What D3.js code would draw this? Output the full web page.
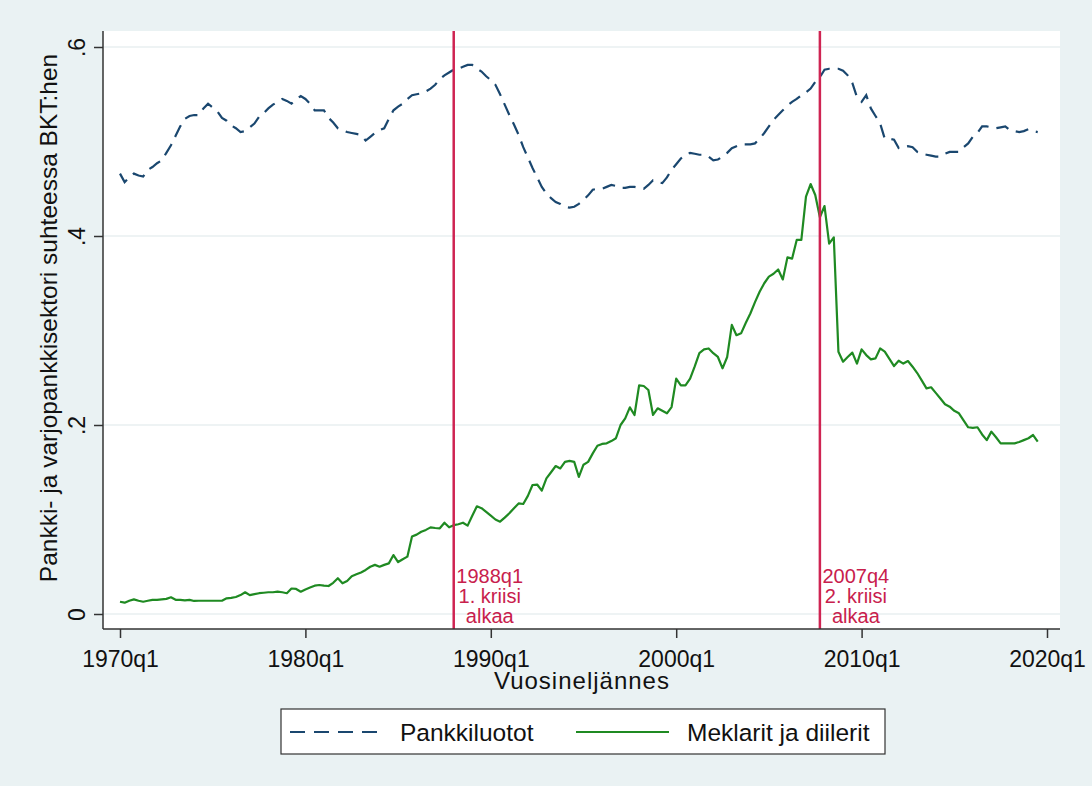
<!DOCTYPE html>
<html>
<head>
<meta charset="utf-8">
<script src="https://cdn.jsdelivr.net/npm/d3@7"></script>
<style>
  body { margin: 0; background: #eaf2f3; }
  svg { display: block; font-family: Arial, "Liberation Sans", sans-serif; }
</style>
</head>
<body>
<div id="chart"></div>
<script>
// quarterly series, 1970q1 .. 2019q3
const startYear = 1970;

const pankkiluotot = [
  .466, .457, .462, .466,  .464, .463, .470, .473,  .477, .480, .488, .496,  .506, .516, .524, .527,
  .528, .528, .535, .540,  .536, .532, .525, .522,  .517, .514, .510, .511,  .515, .519, .526, .530,
  .535, .539, .542, .545,  .543, .540, .545, .548,  .545, .540, .533, .533,  .533, .525, .520, .514,
  .512, .510, .509, .508,  .507, .501, .505, .509,  .512, .514, .524, .533,  .537, .540, .545, .549,
  .550, .551, .553, .556,  .560, .566, .570, .573,  .576, .577, .579, .581,  .581, .577, .574, .569,
  .565, .560, .550, .539,  .528, .518, .507, .494,  .483, .472, .462, .452,  .445, .440, .436, .434,
  .431, .430, .431, .434,  .438, .443, .449, .450,  .450, .452, .454, .453,  .451, .451, .452, .452,
  .451, .450, .454, .459,  .457, .456, .462, .470,  .476, .482, .486, .488,  .487, .486, .486, .484,
  .480, .481, .484, .488,  .493, .495, .497, .497,  .497, .498, .503, .509,  .516, .523, .528, .533,
  .538, .542, .545, .549,  .552, .556, .563, .568,  .576, .577, .577, .577,  .575, .570, .562, .547,
  .542, .549, .535, .527,  .519, .503, .503, .502,  .493, .494, .495, .494,  .489, .487, .486, .485,
  .484, .484, .487, .489,  .489, .489, .494, .498,  .505, .509, .516, .516,  .515, .514, .515, .516,
  .512, .511, .510, .511,  .513, .511, .510
];

const meklarit = [
  .013, .012, .014, .0155,  .014, .013, .014, .015,  .015, .0155, .016, .0177,  .015, .015, .0145, .015,
  .0138, .014, .014, .014,  .014, .014, .014, .0166,  .017, .018, .020, .023,  .020, .021, .022, .0225,
  .023, .023, .0236, .023,  .022, .027, .0265, .0236,  .026, .028, .030, .0307,  .030, .0296, .033, .0378,
  .0325, .035, .040, .042,  .044, .0466, .050, .052,  .050, .052, .0536, .0624,  .055, .058, .0607, .082,
  .084, .087, .089, .0917,  .091, .0907, .0966, .0917,  .094, .095, .0966, .0935,  .104, .114, .112, .108,
  .104, .100, .0977, .102,  .1066, .112, .117, .1164,  .125, .1365, .137, .1305,  .1436, .150, .1566, .154,
  .161, .162, .161, .145,  .158, .161, .170, .178,  .180, .1806, .183, .186,  .200, .207, .2187, .2106,
  .242, .2413, .237, .2106,  .2177, .215, .2124, .219,  .249, .242, .242, .249,  .262, .276, .280, .281,
  .276, .272, .260, .272,  .306, .295, .297, .308,  .318, .330, .341, .350,  .357, .360, .3646, .354,
  .3774, .376, .3958, .3958,  .4416, .455, .4434, .4198,  .4317, .392, .3986, .2776,  .267, .272, .2766, .265,
  .280, .274, .2695, .2705,  .281, .2776, .270, .2624,  .268, .265, .2677, .2617,  .255, .247, .2388, .2399,
  .234, .228, .222, .2194,  .215, .2124, .205, .1976,  .197, .1976, .190, .184,  .193, .187, .1806, .1806,
  .1806, .1806, .182, .184,  .186, .1894, .1824
];

const xTickLabels = ["1970q1", "1980q1", "1990q1", "2000q1", "2010q1", "2020q1"];
const yTicks = [0, 0.2, 0.4, 0.6];
const yTickLabels = ["0", ".2", ".4", ".6"];
const crisisQuarters = ["1988q1", "2007q4"];
const crisisLabels = [["1988q1", "1. kriisi", "alkaa"], ["2007q4", "2. kriisi", "alkaa"]];
const seriesNames = ["Pankkiluotot", "Meklarit ja diilerit"];

const qIndex = (s) => (+s.slice(0, 4) - startYear) * 4 + (+s.slice(5) - 1);

const W = 1092, H = 786;
const plot = { left: 103, right: 1060, top: 31, bottom: 629 };
const navy = "#1a476f", green = "#1f8a22", dash = "13,8";

const svg = d3.select("#chart").append("svg")
  .attr("width", W).attr("height", H);

svg.append("rect").attr("width", W).attr("height", H).attr("fill", "#eaf2f3");
svg.append("rect")
  .attr("x", plot.left).attr("y", plot.top)
  .attr("width", plot.right - plot.left).attr("height", plot.bottom - plot.top)
  .attr("fill", "#ffffff");

const x = d3.scaleLinear().domain([0, 200]).range([120, 1047]);
const y = d3.scaleLinear().domain([0, 0.6]).range([614, 47]);

// gridlines
svg.append("g").selectAll("line").data(yTicks).enter().append("line")
  .attr("x1", plot.left).attr("x2", plot.right)
  .attr("y1", d => y(d)).attr("y2", d => y(d))
  .attr("stroke", "#e8eff1").attr("stroke-width", 1.5);

const line = d3.line().x((d, i) => x(i)).y(d => y(d));

svg.append("path").datum(pankkiluotot)
  .attr("d", line).attr("fill", "none")
  .attr("stroke", navy).attr("stroke-width", 2.2)
  .attr("stroke-dasharray", dash);

svg.append("path").datum(meklarit)
  .attr("d", line).attr("fill", "none")
  .attr("stroke", green).attr("stroke-width", 2.2)
  .attr("stroke-linejoin", "round");

// crisis lines + labels
crisisQuarters.forEach((q, k) => {
  const cx = x(qIndex(q));
  svg.append("line")
    .attr("x1", cx).attr("x2", cx).attr("y1", plot.top).attr("y2", plot.bottom)
    .attr("stroke", "#cf2452").attr("stroke-width", 2.5);
  svg.append("text")
    .attr("x", cx + 36).attr("y", 583)
    .attr("text-anchor", "middle").attr("fill", "#c8204c")
    .style("font-size", "20px")
    .selectAll("tspan").data(crisisLabels[k]).enter().append("tspan")
    .attr("x", cx + 36).attr("dy", (d, i) => i === 0 ? 0 : 20)
    .text(d => d);
});

// axes
const xAxis = d3.axisBottom(x)
  .tickValues(xTickLabels.map(qIndex))
  .tickFormat((d, i) => xTickLabels[i])
  .tickSize(9).tickSizeOuter(0);
const gx = svg.append("g").attr("transform", `translate(0,${plot.bottom})`).call(xAxis);
gx.select(".domain").remove();
gx.selectAll(".tick line").attr("stroke", "#333").attr("stroke-width", 1.5);
gx.selectAll(".tick text").attr("y", 22).attr("fill", "#111").style("font-size", "23px");

const yAxis = d3.axisLeft(y)
  .tickValues(yTicks)
  .tickFormat((d, i) => yTickLabels[i])
  .tickSize(9).tickSizeOuter(0);
const gy = svg.append("g").attr("transform", `translate(${plot.left},0)`).call(yAxis);
gy.select(".domain").remove();
gy.selectAll(".tick line").attr("stroke", "#333").attr("stroke-width", 1.5);
gy.selectAll(".tick text")
  .attr("x", 0).attr("dy", null)
  .attr("transform", "translate(-18,0) rotate(-90)")
  .attr("text-anchor", "middle").attr("fill", "#111")
  .style("font-size", "23px");

svg.append("line")
  .attr("x1", plot.left).attr("x2", plot.left).attr("y1", plot.top).attr("y2", plot.bottom)
  .attr("stroke", "#333").attr("stroke-width", 1.5);
svg.append("line")
  .attr("x1", plot.left).attr("x2", plot.right).attr("y1", plot.bottom).attr("y2", plot.bottom)
  .attr("stroke", "#333").attr("stroke-width", 1.5);

// axis titles
svg.append("text")
  .attr("x", 582).attr("y", 689)
  .attr("text-anchor", "middle").attr("fill", "#111")
  .style("font-size", "24px").style("letter-spacing", "1px")
  .text("Vuosineljännes");

svg.append("text")
  .attr("transform", "translate(57,318) rotate(-90)")
  .attr("text-anchor", "middle").attr("fill", "#111")
  .style("font-size", "24.5px")
  .text("Pankki- ja varjopankkisektori suhteessa BKT:hen");

// legend
const lg = svg.append("g");
lg.append("rect")
  .attr("x", 281).attr("y", 709).attr("width", 604).attr("height", 45)
  .attr("fill", "#fff").attr("stroke", "#333").attr("stroke-width", 1.2);
lg.append("line").attr("x1", 290).attr("x2", 377).attr("y1", 732).attr("y2", 732)
  .attr("stroke", navy).attr("stroke-width", 2.2).attr("stroke-dasharray", "15,9");
lg.append("text").attr("x", 400).attr("y", 741).attr("fill", "#111")
  .style("font-size", "24.5px").text(seriesNames[0]);
lg.append("line").attr("x1", 576).attr("x2", 669).attr("y1", 732).attr("y2", 732)
  .attr("stroke", green).attr("stroke-width", 2.2);
lg.append("text").attr("x", 687).attr("y", 741).attr("fill", "#111")
  .style("font-size", "24.5px").text(seriesNames[1]);
</script>
</body>
</html>
